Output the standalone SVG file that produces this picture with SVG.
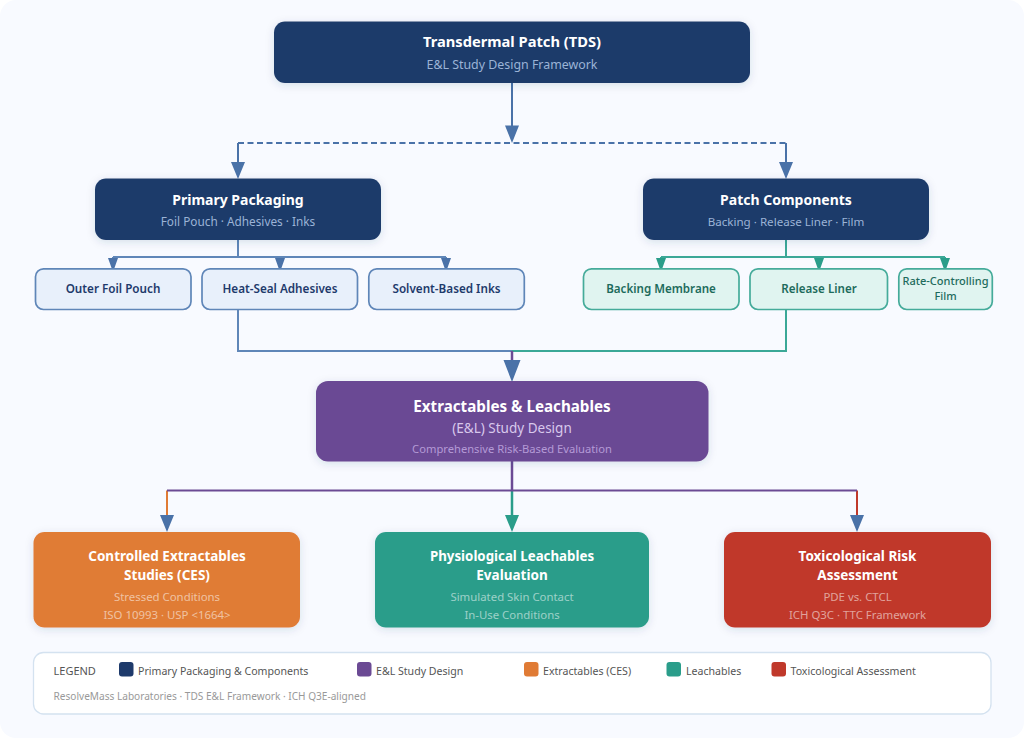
<svg xmlns="http://www.w3.org/2000/svg" width="1024" height="738" viewBox="0 0 1024 738">
<style>
text{font-family:"Noto Sans","Open Sans","Liberation Sans",sans-serif;text-anchor:middle}
.t{font-weight:700;font-size:14px;fill:#fff}
.tb{font-weight:700;font-size:13.500px;fill:#fff}
.s{font-size:11.800px;fill:#9bb3d6}
.w{font-size:11.400px;fill:#fff;fill-opacity:.55}
.n{fill:#1e3a6b}
.b{fill:#e8f0fb;stroke:#5f86b8;stroke-width:1.700}
.g{fill:#e0f4f0;stroke:#45ab9a;stroke-width:1.700}
.bt{font-weight:600;font-size:11.700px;fill:#1e3a6b}
.gt{font-weight:600;font-size:11.600px;fill:#1d6b5c}
.l{fill:none;stroke-width:2}
.lg{font-size:10.600px;fill:#555;text-anchor:start}
</style>
<defs>
<filter id="sh" x="-10%" y="-15%" width="120%" height="140%"><feDropShadow dx="0" dy="2" stdDeviation="4" flood-color="#1e3a6b" flood-opacity=".14"/></filter>
</defs>
<rect width="1024" height="738" fill="#fff"/>
<rect width="1024" height="738" rx="16" fill="#f8faff"/>
<g id="connectors">
<path class="l" stroke="#4a72a8" d="M512 83V130"/>
<path class="l" stroke="#4a72a8" stroke-dasharray="6 3.500" d="M238 143H786"/>
<path class="l" stroke="#4a72a8" d="M238 143V165M786 143V165"/>
<path class="l" stroke="#5f86b8" d="M238 240V257M113 257H446M113 257V262M280 257V262M446 257V262"/>
<path class="l" stroke="#3ba897" d="M786 240V257M661 257H945M661 257V262M819 257V262M945 257V262"/>
<path class="l" stroke="#5f86b8" d="M238 310V351H512"/>
<path class="l" stroke="#3ba897" d="M786 310V351H512"/>
<path fill="none" stroke="#6b4a94" stroke-width="2.500" d="M512 351V362"/>
<path fill="none" stroke="#6b4a94" stroke-width="2.500" d="M512 461V490"/>
<path class="l" stroke="#e07b35" d="M167 490.500V516"/>
<path fill="none" stroke="#2a9d8a" stroke-width="2.500" d="M512 490.500V516"/>
<path class="l" stroke="#c0392b" d="M857 490.500V516"/>
<path class="l" stroke="#6b4a94" d="M167 490.500H857"/>
<g fill="#4a72a8">
<path d="M512 143L505 125.500H519ZM238 179L231 162H245ZM786 179L779 162H793ZM512 382L503.500 360H520.500ZM167 532L160 515H174ZM857 532L850 515H864Z"/>
<path d="M113 272L108 258H118ZM280 272L275 258H285ZM446 272L441 258H451Z"/>
</g>
<path fill="#2a9d8a" d="M661 272L656 258H666ZM819 272L814 258H824ZM945 272L940 258H950ZM512 532L505 515H519Z"/>
</g>
<g id="node-tds"><rect class="n" filter="url(#sh)" x="274" y="21.500" width="476" height="61.500" rx="11"/><text class="t" x="512" y="47" style="font-size:14.700px">Transdermal Patch (TDS)</text><text class="s" x="512" y="69" style="font-size:12.400px">E&amp;L Study Design Framework</text></g>
<g id="node-primary"><rect class="n" filter="url(#sh)" x="95" y="178.500" width="286" height="61.500" rx="11"/><text class="t" x="238" y="204.500">Primary Packaging</text><text class="s" x="238" y="226">Foil Pouch · Adhesives · Inks</text></g>
<g id="node-patch"><rect class="n" filter="url(#sh)" x="643" y="178.500" width="286" height="61.500" rx="11"/><text class="t" x="786" y="204.500">Patch Components</text><text class="s" x="786" y="226" style="font-size:11.600px">Backing · Release Liner · Film</text></g>
<g id="node-foil"><rect class="b" x="35.500" y="268.800" width="155.500" height="40.700" rx="8"/><text class="bt" x="113" y="293">Outer Foil Pouch</text></g>
<g id="node-heat"><rect class="b" x="202" y="268.800" width="155.500" height="40.700" rx="8"/><text class="bt" x="280" y="293">Heat-Seal Adhesives</text></g>
<g id="node-ink"><rect class="b" x="368.800" y="268.800" width="155.500" height="40.700" rx="8"/><text class="bt" x="446.500" y="293">Solvent-Based Inks</text></g>
<g id="node-backing"><rect class="g" x="583.500" y="268.800" width="155.500" height="40.700" rx="8"/><text class="gt" x="661" y="293">Backing Membrane</text></g>
<g id="node-liner"><rect class="g" x="750" y="268.800" width="137.500" height="40.700" rx="8"/><text class="gt" x="819" y="293">Release Liner</text></g>
<g id="node-film"><rect class="g" x="898.800" y="268.800" width="93.500" height="40.700" rx="8"/><text class="gt" x="945.500" y="285" style="font-weight:500;font-size:11px">Rate-Controlling</text><text class="gt" x="945.500" y="300" style="font-weight:500;font-size:11px">Film</text></g>
<g id="node-el"><rect fill="#6b4a94" filter="url(#sh)" x="316" y="381" width="392.500" height="80.500" rx="12"/><text class="t" x="512" y="411.500" style="font-size:15.200px">Extractables &amp; Leachables</text><text x="512" y="433" style="font-size:13.500px;fill:#d8c8ec">(E&amp;L) Study Design</text><text x="512" y="452.500" style="font-size:11.200px;fill:#b49ad6">Comprehensive Risk-Based Evaluation</text></g>
<g id="node-ces"><rect fill="#e07b35" filter="url(#sh)" x="33.500" y="532" width="266.500" height="95.500" rx="11"/><text class="tb" x="167" y="560.500">Controlled Extractables</text><text class="tb" x="167" y="580">Studies (CES)</text><text class="w" x="167" y="601">Stressed Conditions</text><text class="w" x="167" y="619">ISO 10993 · USP &lt;1664&gt;</text></g>
<g id="node-leach"><rect fill="#2a9d8a" filter="url(#sh)" x="375" y="532" width="274" height="95.500" rx="11"/><text class="tb" x="512" y="560.500" style="font-size:13.300px">Physiological Leachables</text><text class="tb" x="512" y="580">Evaluation</text><text class="w" x="512" y="601">Simulated Skin Contact</text><text class="w" x="512" y="619">In-Use Conditions</text></g>
<g id="node-tox"><rect fill="#c0392b" filter="url(#sh)" x="724" y="532" width="267" height="95.500" rx="11"/><text class="tb" x="857.500" y="560.500">Toxicological Risk</text><text class="tb" x="857.500" y="580">Assessment</text><text class="w" x="857.500" y="601">PDE vs. CTCL</text><text class="w" x="857.500" y="619">ICH Q3C · TTC Framework</text></g>
<g id="legend">
<rect x="33.500" y="652.500" width="957.500" height="61.500" rx="10" fill="#fff" stroke="#d4e2f0" stroke-width="1.300"/>
<text class="lg" x="53.500" y="675" style="font-size:11px">LEGEND</text>
<rect x="119" y="662" width="14.500" height="14.500" rx="3" fill="#1e3a6b"/><text class="lg" x="138" y="675">Primary Packaging &amp; Components</text>
<rect x="357" y="662" width="14.500" height="14.500" rx="3" fill="#6b4a94"/><text class="lg" x="376" y="675">E&amp;L Study Design</text>
<rect x="524" y="662" width="14.500" height="14.500" rx="3" fill="#e07b35"/><text class="lg" x="543" y="675">Extractables (CES)</text>
<rect x="666.500" y="662" width="14.500" height="14.500" rx="3" fill="#2a9d8a"/><text class="lg" x="686" y="675">Leachables</text>
<rect x="771.500" y="662" width="14.500" height="14.500" rx="3" fill="#c0392b"/><text class="lg" x="790.500" y="675">Toxicological Assessment</text>
<text class="lg" x="53.500" y="700" style="font-size:10.100px;fill:#999">ResolveMass Laboratories · TDS E&amp;L Framework · ICH Q3E-aligned</text>
</g>
</svg>
